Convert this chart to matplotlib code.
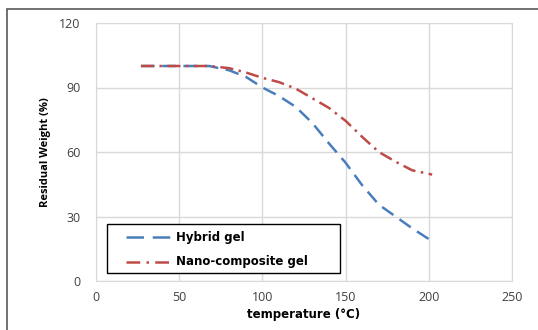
import matplotlib
matplotlib.use("Agg")
import matplotlib.pyplot as plt
from matplotlib.patches import Rectangle

# TGA curves: residual weight vs temperature
temp_hybrid = [27, 40, 50, 60, 68, 80, 90, 100, 110, 120, 130, 140, 150, 160, 170, 180, 190, 200]
weight_hybrid = [100, 100, 100, 100, 100, 98, 95, 90, 86, 81, 73.5, 64, 55, 44.5, 35.5, 30, 24.5, 19.5]

temp_nano = [27, 40, 50, 60, 68, 80, 90, 100, 110, 120, 130, 140, 150, 160, 170, 180, 190, 202]
weight_nano = [100, 100, 100, 100, 100, 99, 97, 94.5, 92.5, 89.5, 85, 80.5, 74.5, 67, 60, 55.5, 51.5, 49.5]

labels = ["Hybrid gel", "Nano-composite gel"]

blue = "#4a7ebb"
red = "#be4b48"
grid = "#d9d9d9"
plt.rcParams["font.family"] = ["Open Sans", "DejaVu Sans"]

fig = plt.figure(figsize=(5.38, 3.30), dpi=100)
fig.patches.append(Rectangle((7 / 538, -0.1), 1.2, 1 - 9 / 330 + 0.1, transform=fig.transFigure,
                             fill=False, edgecolor="#595959", linewidth=1.2))

ax = fig.add_axes([96 / 538, 1 - 281 / 330, 416 / 538, 258 / 330])
ax.plot(temp_hybrid, weight_hybrid, color=blue, linewidth=1.8, dashes=(5.5, 3))
ax.plot(temp_nano, weight_nano, color=red, linewidth=1.8, dashes=(5.2, 2.2, 1, 2.2))

ax.set_xlim(0, 250)
ax.set_ylim(0, 120)
ax.set_xticks(range(0, 251, 50))
ax.set_yticks(range(0, 121, 30))
ax.grid(True, color=grid, linewidth=1)
ax.set_axisbelow(True)
for s in ax.spines.values():
    s.set_color(grid)
ax.tick_params(length=0, labelsize=9, colors="#404040")
ax.tick_params(axis="y", pad=11)
ax.tick_params(axis="x", pad=7)

ax.set_xlabel("temperature (°C)", fontsize=8.5, fontweight="bold", labelpad=3,
              family="DejaVu Sans")
ax.set_ylabel("Residual Weight (%)", fontsize=8, fontweight="bold", labelpad=6)

# boxed legend, laid out by hand in axes fractions
def px(x, y):
    return (x - 96) / 416, (281 - y) / 258

x0, y0 = px(107, 273)
x1, y1 = px(340, 224)
ax.add_patch(Rectangle((x0, y0), x1 - x0, y1 - y0, transform=ax.transAxes,
                       facecolor="white", edgecolor="black", linewidth=1, zorder=5))
keys = [(blue, (7, 3.5), 237), (red, (5.5, 2.5, 1, 2.5), 262)]
for (color, dash, row), label in zip(keys, labels):
    ha, ya = px(126, row)
    hb, _ = px(172, row)
    ax.plot([ha, hb], [ya, ya], transform=ax.transAxes, color=color,
            linewidth=1.8, dashes=dash, zorder=6, clip_on=False)
    tx, _ = px(176, row)
    ax.text(tx, ya, label, transform=ax.transAxes, va="center", ha="left",
            fontsize=8.5, fontweight="bold", family="DejaVu Sans", zorder=6)

fig.savefig("out.png", dpi=100)
